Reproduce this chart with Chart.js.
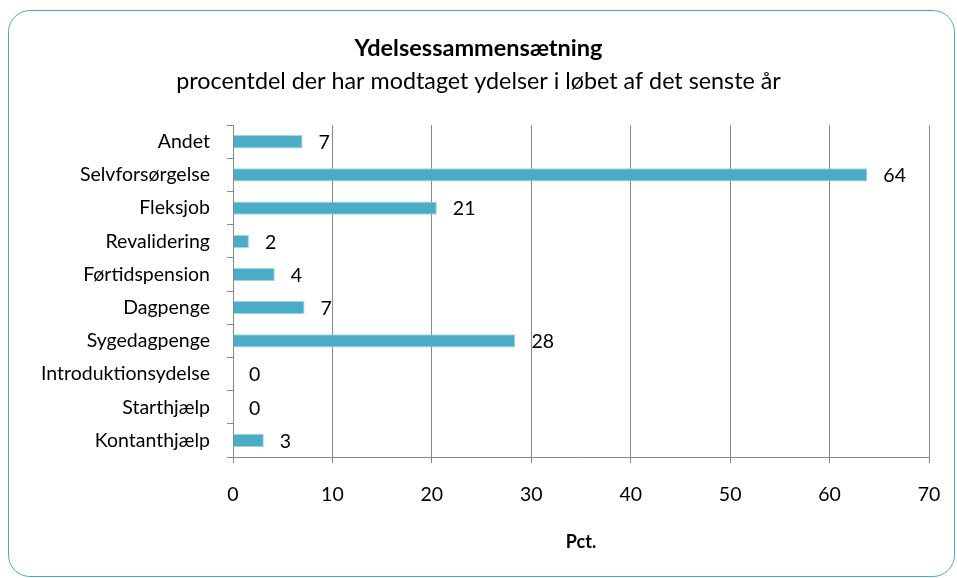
<!DOCTYPE html>
<html>
<head>
<meta charset="utf-8">
<script src="https://cdn.jsdelivr.net/npm/chart.js@4.4.1/dist/chart.umd.min.js"></script>
<style>
  html, body { margin: 0; padding: 0; background: #fff; }
  #wrap { position: relative; width: 957px; height: 578px; overflow: hidden; }
  #frame { position: absolute; left: 8px; top: 10px; width: 947px; height: 567px;
           border: 1.5px solid #4bacc6; border-radius: 22px; box-sizing: border-box; }
  canvas { position: absolute; left: 0; top: 0; }
</style>
</head>
<body>
<div id="wrap">
  <div id="frame"></div>
  <canvas id="c" width="957" height="578"></canvas>
</div>
<script>
const categories = ["Andet", "Selvforsørgelse", "Fleksjob", "Revalidering", "Førtidspension",
                    "Dagpenge", "Sygedagpenge", "Introduktionsydelse", "Starthjælp", "Kontanthjælp"];
const values = [7.0, 63.8, 20.5, 1.6, 4.2, 7.2, 28.4, 0, 0, 3.1];
const valueLabels = ["7", "64", "21", "2", "4", "7", "28", "0", "0", "3"];
const xTicks = [0, 10, 20, 30, 40, 50, 60, 70];

const FONT = "Lato, 'Open Sans', sans-serif";

const valueLabelPlugin = {
  id: 'valueLabels',
  afterDatasetsDraw(chart) {
    const ctx = chart.ctx;
    const meta = chart.getDatasetMeta(0);
    ctx.save();
    ctx.font = "19.5px " + FONT;
    ctx.fillStyle = "#000";
    ctx.textAlign = "left";
    ctx.textBaseline = "middle";
    meta.data.forEach((bar, i) => {
      ctx.fillText(valueLabels[i], bar.x + 16, bar.y + 1);
    });
    ctx.restore();
  }
};

new Chart(document.getElementById('c'), {
  type: 'bar',
  data: {
    labels: categories,
    datasets: [{
      data: values,
      backgroundColor: '#4bacc6',
      borderColor: '#a5d5e4',
      borderWidth: 1,
      barPercentage: 0.4,
      categoryPercentage: 1.0
    }]
  },
  options: {
    indexAxis: 'y',
    responsive: false,
    animation: false,
    devicePixelRatio: 1,
    layout: { padding: 0 },
    plugins: {
      legend: { display: false },
      tooltip: { enabled: false },
      title: {
        display: true,
        text: 'Ydelsessammensætning',
        color: '#000',
        font: { family: FONT, size: 23.5, weight: 'bold' },
        padding: { top: 34, bottom: 0 }
      },
      subtitle: {
        display: true,
        text: 'procentdel der har modtaget ydelser i løbet af det senste år',
        color: '#000',
        font: { family: FONT, size: 23.3 },
        padding: { top: 5, bottom: 30 }
      }
    },
    scales: {
      x: {
        min: 0, max: 70,
        afterFit(scale) { scale.height = 121; scale.paddingLeft = 0; scale.paddingRight = 28; },
        afterBuildTicks(scale) { scale.ticks = xTicks.map(v => ({ value: v })); },
        grid: { color: '#888888', lineWidth: 1, tickLength: 6, drawTicks: true },
        border: { color: '#888888', width: 1 },
        ticks: { color: '#000', font: { family: FONT, size: 19.5 }, padding: 20, maxRotation: 0 },
        title: {
          display: true, text: 'Pct.', color: '#000',
          font: { family: FONT, size: 18, weight: 'bold' },
          padding: { top: 0, bottom: 25 }
        }
      },
      y: {
        afterFit(scale) { scale.width = 233; },
        grid: { drawOnChartArea: false, color: '#888888', tickLength: 6, offset: true },
        border: { color: '#888888', width: 1 },
        ticks: { color: '#000', font: { family: FONT, size: 19.5 }, padding: 17, autoSkip: false }
      }
    }
  },
  plugins: [valueLabelPlugin]
});
</script>
</body>
</html>
